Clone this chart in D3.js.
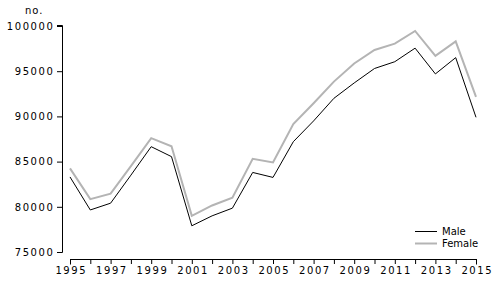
<!DOCTYPE html>
<html>
<head>
<meta charset="utf-8">
<script src="https://cdn.jsdelivr.net/npm/d3@7"></script>
<style>
  body { margin: 0; background: #fff; }
  svg { display: block; }
  text { font-family: "DejaVu Sans", Verdana, sans-serif; font-size: 10px; fill: #000; }
  .num { letter-spacing: 1.6px; }
</style>
</head>
<body>
<svg id="chart" width="496" height="284"></svg>
<script>
const years = [1995,1996,1997,1998,1999,2000,2001,2002,2003,2004,2005,2006,2007,2008,2009,2010,2011,2012,2013,2014,2015];
const male =   [83300,79650,80400,83500,86650,85550,77900,79000,79850,83800,83250,87200,89500,92000,93700,95300,96050,97550,94700,96500,89900];
const female = [84250,80850,81450,84500,87600,86700,79000,80150,81000,85300,84900,89150,91450,93850,95850,97350,98050,99450,96700,98300,92150];
const yTicks = [75000,80000,85000,90000,95000,100000];
const xTicks = [1995,1997,1999,2001,2003,2005,2007,2009,2011,2013,2015];
const seriesNames = ["Male","Female"];
const seriesColors = ["#000000","#b4b4b4"];
const seriesWidths = [1, 2];

const svg = d3.select("#chart");
const x = d3.scaleLinear().domain([1995, 2015]).range([70, 476]);
const y = d3.scaleLinear().domain([75000, 100000]).range([252, 26]);

// Y axis
const yAxis = svg.append("g").attr("transform", "translate(62,0)")
  .call(d3.axisLeft(y).tickValues(yTicks).tickFormat(d3.format("d")).tickSize(5).tickPadding(2.5));
yAxis.select(".domain").attr("stroke", "#000").attr("d", "M-5,252.5H0.5V25.5H-5");
yAxis.selectAll(".tick line").attr("stroke", "#000");
yAxis.selectAll("text").attr("class", "num").style("font-size", "10px");
yAxis.attr("font-family", null).attr("font-size", null);

// X axis
const xAxis = svg.append("g").attr("transform", "translate(0,259)")
  .call(d3.axisBottom(x).tickValues(d3.range(1995, 2016)).tickFormat(d => xTicks.includes(d) ? d : "").tickSize(5).tickPadding(3));
xAxis.select(".domain").attr("stroke", "#000").attr("d", "M70.5,5.5V0.5H476.5V5.5");
xAxis.selectAll(".tick line").attr("stroke", "#000");
xAxis.selectAll("text").attr("class", "num").style("font-size", "10px").attr("dx", "0.8px");
xAxis.attr("font-family", null).attr("font-size", null);

// unit label
svg.append("text").attr("x", 25).attr("y", 14).attr("class", "num").style("letter-spacing", "1px").text("no.");

// lines
const line = d3.line().x((d, i) => x(years[i])).y(d => y(d));
[female, male].forEach((data, k) => {
  const idx = k === 0 ? 1 : 0;
  svg.append("path").datum(data)
    .attr("fill", "none")
    .attr("stroke", seriesColors[idx])
    .attr("stroke-width", seriesWidths[idx])
    .attr("stroke-linejoin", "miter")
    .attr("d", line);
});

// legend
seriesNames.forEach((name, i) => {
  const ly = 231.5 + i * 12;
  svg.append("line").attr("x1", 415).attr("x2", 437).attr("y1", ly).attr("y2", ly)
    .attr("stroke", seriesColors[i]).attr("stroke-width", seriesWidths[i]);
  svg.append("text").attr("x", 442).attr("y", ly + 3.5).text(name);
});
</script>
</body>
</html>
